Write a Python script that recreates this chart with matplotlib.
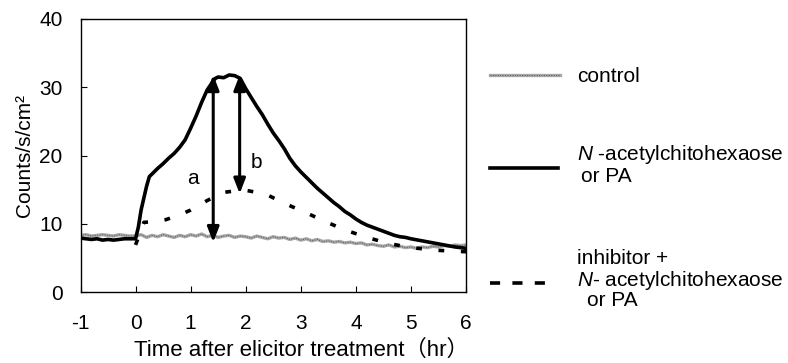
import matplotlib.pyplot as plt
from matplotlib.lines import Line2D

plt.rcParams['font.family'] = ['Liberation Sans', 'Noto Sans CJK JP', 'DejaVu Sans']
plt.rcParams['mathtext.fontset'] = 'custom'
plt.rcParams['mathtext.rm'] = 'Liberation Sans'
plt.rcParams['mathtext.it'] = 'Liberation Sans:italic'
plt.rcParams['axes.unicode_minus'] = False

# --------------------------------------------------
# Data
# --------------------------------------------------
ctrl_time = [-1.0, -0.9, -0.8, -0.7, -0.6, -0.5, -0.4, -0.3, -0.2, -0.1,
             0.0, 0.1, 0.2, 0.3, 0.4, 0.5, 0.6, 0.7, 0.8, 0.9,
             1.0, 1.1, 1.2, 1.3, 1.4, 1.5, 1.6, 1.7, 1.8, 1.9,
             2.0, 2.1, 2.2, 2.3, 2.4, 2.5, 2.6, 2.7, 2.8, 2.9,
             3.0, 3.1, 3.2, 3.3, 3.4, 3.5, 3.6, 3.7, 3.8, 3.9,
             4.0, 4.1, 4.2, 4.3, 4.4, 4.5, 4.6, 4.7, 4.8, 4.9,
             5.0, 5.1, 5.2, 5.3, 5.4, 5.5, 5.6, 5.7, 5.8, 5.9, 6.0]
ctrl_vals = [8.3, 8.4, 8.2, 8.3, 8.4, 8.3, 8.2, 8.4, 8.3, 8.2,
             8.2, 8.4, 8.0, 8.3, 8.1, 8.4, 8.2, 8.0, 8.3, 8.1,
             8.4, 8.2, 8.5, 8.1, 8.3, 8.0, 8.2, 8.3, 8.0, 8.2,
             8.1, 7.9, 8.2, 8.0, 7.8, 8.1, 7.9, 8.0, 7.7, 7.9,
             7.6, 7.8, 7.5, 7.7, 7.4, 7.5, 7.3, 7.4, 7.2, 7.3,
             7.1, 7.2, 6.9, 7.0, 6.8, 6.7, 6.9, 6.6, 6.7, 6.5,
             6.6, 6.4, 6.6, 6.5, 6.7, 6.6, 6.8, 6.7, 6.9, 6.8, 6.9]

elic_time = [-1.0, -0.9, -0.8, -0.7, -0.6, -0.5, -0.4, -0.3, -0.2, -0.1, 0.0,
             0.05, 0.1, 0.2, 0.25, 0.3, 0.4, 0.5, 0.6, 0.7, 0.8, 0.9,
             1.0, 1.1, 1.2, 1.3, 1.4, 1.45, 1.5, 1.6, 1.7, 1.8, 1.9,
             2.0, 2.1, 2.2, 2.3, 2.4, 2.5, 2.6, 2.7, 2.8, 2.9,
             3.0, 3.1, 3.2, 3.3, 3.4, 3.5, 3.6, 3.7, 3.8, 3.9,
             4.0, 4.1, 4.2, 4.3, 4.4, 4.5, 4.6, 4.7, 4.8, 4.9,
             5.0, 5.2, 5.4, 5.6, 5.8, 6.0]
elic_vals = [7.9, 7.8, 7.7, 7.8, 7.6, 7.7, 7.6, 7.7, 7.8, 7.8, 7.8,
             9.5, 12.0, 15.5, 16.9, 17.3, 18.1, 18.8, 19.6, 20.3, 21.2, 22.3,
             24.0, 25.8, 27.8, 29.6, 30.8, 31.3, 31.5, 31.4, 31.8, 31.7, 31.3,
             29.8, 28.5, 27.2, 26.0, 24.6, 23.3, 22.2, 21.0, 19.6, 18.5,
             17.6, 16.8, 16.0, 15.2, 14.5, 13.8, 13.1, 12.5, 11.8, 11.3,
             10.7, 10.2, 9.8, 9.5, 9.2, 8.9, 8.6, 8.3, 8.1, 8.0,
             7.8, 7.5, 7.2, 6.9, 6.6, 6.4]

inhib_time = [0.0, 0.15, 0.3, 0.55, 0.8, 1.0, 1.3, 1.6, 1.8, 2.0, 2.2, 2.4,
              2.7, 3.1, 3.45, 3.8, 4.2, 4.6, 5.0, 5.5, 6.0]
inhib_vals = [6.9, 10.2, 10.3, 10.6, 11.3, 12.0, 13.4, 14.6, 14.8, 14.9, 14.6, 14.2,
              13.0, 11.6, 10.3, 9.1, 8.0, 7.1, 6.5, 6.1, 5.9]

arrow_a = (1.41, 7.3, 31.8)   # x, bottom, top
arrow_b = (1.89, 14.4, 31.8)

# --------------------------------------------------
# Figure
# --------------------------------------------------
W, H = 788, 363
fig = plt.figure(figsize=(W / 100, H / 100), dpi=100)
ax = fig.add_axes([80.5 / W, 1 - 292 / H, (466 - 80.5) / W, (292 - 19) / H])

ax.plot(ctrl_time, ctrl_vals, color='#a8a8a8', lw=2.4, zorder=2)
ax.plot(ctrl_time, ctrl_vals, color='#555555', lw=0.7, ls=(0, (1, 1.5)), zorder=2)
ax.plot(elic_time, elic_vals, color='black', lw=2.6, zorder=3)
ax.plot(inhib_time, inhib_vals, color='black', lw=2.6, dashes=(1.6, 4.6), zorder=3)

for x, y0, y1 in (arrow_a, arrow_b):
    ax.annotate('', xy=(x, y1), xytext=(x, y0),
                arrowprops=dict(arrowstyle='<|-|>,head_length=0.9,head_width=0.35',
                                mutation_scale=10, color='black', lw=2.2,
                                shrinkA=0, shrinkB=0), zorder=4)
ax.text(1.04, 16.7, 'a', fontsize=15, ha='center', va='center')
ax.text(2.2, 19.0, 'b', fontsize=15, ha='center', va='center')

ax.set_xlim(-1, 6)
ax.set_ylim(0, 40)
ax.set_xticks(range(-1, 7))
ax.set_yticks(range(0, 41, 10))
ax.tick_params(axis='x', direction='in', length=4, width=0.8, pad=16, labelsize=15)
ax.tick_params(axis='y', direction='in', length=4, width=0.8, pad=13, labelsize=15)
for s in ax.spines.values():
    s.set_linewidth(1.0)

ax.set_xlabel('Time after elicitor treatment（hr）', fontsize=16)
ax.xaxis.set_label_coords((301 - 80.5) / (466 - 80.5), -0.175)
ax.xaxis.label.set_va('top')
ax.set_ylabel('Counts/s/cm²', fontsize=15, labelpad=4)

# --------------------------------------------------
# Legend (drawn by hand, figure pixel coordinates)
# --------------------------------------------------
def fx(px):
    return px / W


def fy(py):
    return 1 - py / H


fig.add_artist(Line2D([fx(490), fx(560)], [fy(75), fy(75)], color='#a8a8a8', lw=2.4))
fig.add_artist(Line2D([fx(490), fx(560)], [fy(75), fy(75)], color='#555555', lw=0.7,
                      ls=(0, (1, 1.5))))
fig.add_artist(Line2D([fx(490), fx(558)], [fy(168), fy(168)], color='black', lw=2.6))
fig.add_artist(Line2D([fx(490), fx(547)], [fy(283), fy(283)], color='black', lw=2.6,
                      dashes=(2.8, 3.4)))

legend_texts = [
    (577, 77, 'control'),
    (577, 155, r'$\it{N}$ -acetylchitohexaose'),
    (581, 176, 'or PA'),
    (577, 258, 'inhibitor +'),
    (577, 280, r'$\it{N}$- acetylchitohexaose'),
    (587, 301, 'or PA'),
]
for px, py, s in legend_texts:
    fig.text(fx(px), fy(py), s, fontsize=15, ha='left', va='center')

fig.savefig('out.png', dpi=100)
